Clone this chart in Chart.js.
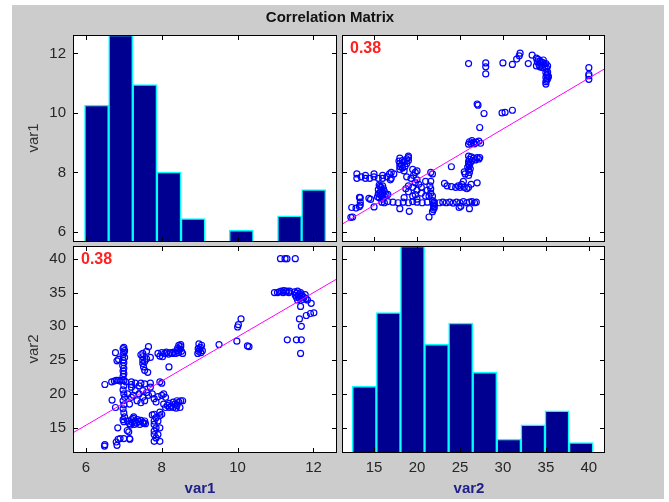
<!DOCTYPE html>
<html><head><meta charset="utf-8">
<script src="https://cdn.jsdelivr.net/npm/chart.js@4.4.1/dist/chart.umd.min.js"></script>
<style>
html,body{margin:0;padding:0;background:#fff;width:669px;height:502px;overflow:hidden;}
#fig{position:absolute;left:12px;top:5px;width:652px;height:494px;background:#cccccc;}
canvas{position:absolute;left:0;top:0;}
.lbl{position:absolute;font-family:'Liberation Sans',Arial,sans-serif;white-space:nowrap;line-height:18px;}
</style></head><body>
<div id="fig"></div>
<canvas id="c11" width="669" height="502"></canvas>
<canvas id="c12" width="669" height="502"></canvas>
<canvas id="c21" width="669" height="502"></canvas>
<canvas id="c22" width="669" height="502"></canvas>
<div class="lbl" style="left:230px;width:200px;top:8px;text-align:center;font-weight:bold;font-size:15px;color:#111;">Correlation Matrix</div>
<div class="lbl" style="left:33px;top:138px;transform:translate(-50%,-50%) rotate(-90deg);font-size:15px;color:#333;">var1</div>
<div class="lbl" style="left:33px;top:349px;transform:translate(-50%,-50%) rotate(-90deg);font-size:15px;color:#333;">var2</div>
<div class="lbl" style="left:200px;top:488px;transform:translate(-50%,-50%);font-size:15px;font-weight:bold;color:#20208a;">var1</div>
<div class="lbl" style="left:469px;top:488px;transform:translate(-50%,-50%);font-size:15px;font-weight:bold;color:#20208a;">var2</div>
<script>
// ---- data ----
const var1 = [
  11.13,11.25,11.30,11.52,
  10.97,11.05,11.10,11.15,11.20,11.22,11.27,11.30,11.35,11.37,
  11.50,11.52,11.55,11.58,11.60,11.62,11.64,11.66,11.68,11.70,11.72,11.75,11.78,11.80,11.84,11.94,11.58,11.55,
  11.66,11.81,11.92,12.01,11.63,11.68,11.31,11.55,11.68,11.66,
  8.95,8.97,9.00,9.02,9.05,8.98,9.07,9.03,8.96,
  9.51,9.98,10.02,10.09,10.00,10.26,10.30,
  7.90,7.95,8.00,8.02,8.08,8.12,8.18,8.22,8.28,8.32,8.36,8.40,8.44,8.48,8.50,8.45,8.52,8.55,8.42,8.50,8.19,
  7.45,7.50,7.50,7.50,7.50,7.52,7.55,7.60,7.65,7.60,7.70,7.63,7.55,
  6.98,7.00,6.98,7.00,6.97,7.00,6.98,7.02,6.98,7.00,7.02,6.98,7.00,6.78,6.86,6.82,
  6.50,6.68,6.75,6.80,6.85,6.90,6.95,7.00,7.05,7.20,7.30,7.45,7.55,7.70,7.95,8.00,7.20,7.40,
  7.00,6.98,7.00,7.02,6.98,7.00,6.98,7.00,7.02,6.98,7.00,
  7.10,7.15,7.20,7.22,7.25,7.28,7.30,7.33,7.36,7.40,7.42,7.45,7.50,7.55,7.57,7.18,7.26,
  7.10,7.20,7.25,7.30,7.35,7.40,7.45,7.50,7.55,7.60,7.70,7.75,7.80,7.85,7.90,8.00,8.05,8.10,7.20,7.15,7.50,7.65,
  7.80,7.85,7.80,7.80,7.85,7.80,7.80,7.85,7.80,7.95,7.90,7.95,7.90,7.95,8.00,7.75,7.95,
  8.10,8.20,8.25,8.30,8.35,8.40,8.45,8.50,8.55,8.40,8.30,8.20,8.15,8.05,8.48,8.38,
  6.49,6.50,6.82,6.80,6.85,6.90,7.00,7.15,7.16,6.84,7.09,7.13,6.69,6.78,7.53
];
const var2 = [
  40,40,40,40,
  35.0,35.0,35.1,35.2,35.0,35.3,35.1,35.2,35.0,35.2,
  35.1,34.6,34.9,35.2,34.5,34.2,34.8,35.0,34.4,34.6,34.0,34.3,34.7,34.1,33.9,33.4,33.9,34.3,
  32.95,31.6,31.9,32.0,31.1,30.0,28.0,28.0,28.0,26.0,
  26.0,26.3,26.6,26.9,27.2,27.4,26.4,26.1,26.7,
  27.3,27.8,30.25,31.1,29.9,27.1,27.0,
  26.0,25.6,26.1,25.5,26.0,26.2,25.9,26.1,26.0,26.2,26.0,26.4,26.1,26.6,27.0,27.2,26.3,26.0,26.8,27.3,24.0,
  25.8,26.0,25.5,25.0,24.5,24.0,23.5,26.3,27.0,25.2,25.4,23.2,24.8,
  22.6,23.0,23.4,23.8,24.2,24.6,25.0,25.4,25.8,26.1,26.4,26.7,26.9,26.1,25.1,24.9,
  21.4,21.8,21.9,22.0,22.0,21.9,22.0,22.0,21.8,21.8,21.6,21.6,21.5,21.6,21.8,21.6,21.4,21.2,
  21.2,20.6,20.0,19.5,19.0,18.4,17.8,17.2,16.6,16.2,15.9,
  16.0,15.6,16.2,15.8,16.4,15.5,16.0,15.7,16.2,15.9,15.5,16.1,15.8,16.0,15.6,15.4,16.6,
  20.0,21.0,19.8,20.5,19.0,20.0,18.7,19.5,19.0,20.2,21.0,20.0,19.3,18.8,19.6,19.8,20.0,19.5,19.5,18.5,20.5,19.8,
  17.0,16.5,16.0,15.5,15.0,14.5,14.0,13.5,13.0,13.0,14.0,15.0,16.0,16.8,17.0,16.9,17.3,
  18.0,18.0,18.2,18.0,18.5,18.3,18.8,19.0,19.0,19.0,18.8,18.6,18.3,18.5,18.0,17.9,
  12.3,12.5,12.4,12.9,13.3,13.4,13.4,13.4,13.3,15.0,14.6,14.4,19.1,18.0,15.7
];
const var1Ticks = [6, 8, 10, 12];
const var2Ticks = [15, 20, 25, 30, 35, 40];
const var1Lim = [5.66, 12.62];
const var2Lim = [11.27, 41.88];
const hist1Start = 5.964, hist1Width = 0.636;
const hist1Counts = [47, 71, 54, 24, 8, 0, 4, 0, 9, 18];
const hist2Start = 12.47, hist2Width = 2.803;
const hist2Counts = [19, 40, 59, 31, 37, 23, 4, 8, 12, 3];
const corrText = '0.38';
const fitVar2OnVar1 = [-4.25, 3.27];  // var2 = a + b*var1
const fitVar1OnVar2 = [4.33, 0.171];  // var1 = a + b*var2

// ---- layout ----
const W = 669, H = 502, Y_W = 45, X_H = 30;
const FONT = {family: "'Liberation Sans', Arial, sans-serif", size: 15};
const TICKC = '#262626';
const rects = {
  c11: {L: 73, T: 35, R: 337, B: 242},
  c12: {L: 342, T: 35, R: 605, B: 242},
  c21: {L: 73, T: 246, R: 337, B: 453},
  c22: {L: 342, T: 246, R: 605, B: 453}
};

const framePlugin = {
  id: 'frame',
  beforeDatasetsDraw(chart) {
    const {ctx, chartArea: a} = chart;
    ctx.save(); ctx.fillStyle = '#fff';
    ctx.fillRect(a.left, a.top, a.right - a.left, a.bottom - a.top);
    ctx.restore();
  },
  afterDraw(chart, args, opts) {
    const {ctx, chartArea: a, scales: {x, y}} = chart;
    ctx.save();
    ctx.strokeStyle = '#000'; ctx.lineWidth = 1;
    ctx.beginPath();
    x.ticks.forEach(t => {
      const p = Math.round(x.getPixelForValue(t.value)) + 0.5;
      ctx.moveTo(p, a.bottom); ctx.lineTo(p, a.bottom - 5);
      ctx.moveTo(p, a.top); ctx.lineTo(p, a.top + 5);
    });
    y.ticks.forEach(t => {
      const p = Math.round(y.getPixelForValue(t.value)) + 0.5;
      ctx.moveTo(a.left, p); ctx.lineTo(a.left + 5, p);
      ctx.moveTo(a.right, p); ctx.lineTo(a.right - 5, p);
    });
    ctx.stroke();
    ctx.strokeRect(Math.round(a.left) + 0.5, Math.round(a.top) + 0.5,
                   Math.round(a.right - a.left) - 1, Math.round(a.bottom - a.top) - 1);
    if (opts && opts.label) {
      ctx.fillStyle = '#ff2020';
      ctx.font = "bold 16px 'Liberation Sans', Arial, sans-serif";
      ctx.textBaseline = 'top';
      ctx.fillText(opts.label, a.left + 8, a.top + 6);
    }
    ctx.restore();
  }
};

function axis(lim, ticks, show, isX) {
  return {
    type: 'linear', min: lim[0], max: lim[1], offset: false, beginAtZero: false,
    grid: {display: false, drawTicks: false}, border: {display: false},
    ticks: {display: show, font: FONT, color: TICKC, padding: isX ? 6 : 7, maxRotation: 0, autoSkip: false},
    afterBuildTicks: s => { s.ticks = ticks.map(v => ({value: v})); },
    afterFit: s => { if (isX) s.height = X_H; else s.width = Y_W; }
  };
}

function makeChart(id, type, datasets, xLim, xTicks, yLim, yTicks, showX, showY, label) {
  const r = rects[id];
  return new Chart(document.getElementById(id), {
    type: type,
    data: {datasets: datasets},
    options: {
      responsive: false, animation: false, devicePixelRatio: 1,
      layout: {padding: {left: r.L - Y_W, right: W - r.R, top: r.T, bottom: H - r.B - X_H}},
      plugins: {legend: {display: false}, tooltip: {enabled: false}, frame: {label: label}},
      scales: {x: axis(xLim, xTicks, showX, true), y: axis(yLim, yTicks, showY, false)}
    },
    plugins: [framePlugin]
  });
}

function histData(start, width, counts, yLim) {
  const maxC = Math.max(...counts);
  return counts.map((c, i) => ({
    x: start + (i + 0.5) * width,
    y: yLim[0] + c / maxC * (yLim[1] - yLim[0])
  }));
}
function histSet(data) {
  return {type: 'bar', data: data, backgroundColor: '#000090', borderColor: '#00ffff',
          borderWidth: 1.5, borderSkipped: false, barPercentage: 1, categoryPercentage: 1,
          minBarLength: 5, grouped: false};
}
function pointsSet(xs, ys) {
  return {type: 'scatter', data: xs.map((v, i) => ({x: v, y: ys[i]})),
          pointStyle: 'circle', pointRadius: 3, pointBorderWidth: 1.2,
          pointBorderColor: '#0000ff', pointBackgroundColor: 'rgba(0,0,0,0)', showLine: false};
}
function fitSet(coef, xLim) {
  return {type: 'line', data: xLim.map(v => ({x: v, y: coef[0] + coef[1] * v})),
          borderColor: '#ff00ff', borderWidth: 1, pointRadius: 0, fill: false, tension: 0};
}

makeChart('c11', 'bar', [histSet(histData(hist1Start, hist1Width, hist1Counts, var1Lim))],
          var1Lim, var1Ticks, var1Lim, var1Ticks, false, true, null);
makeChart('c12', 'scatter', [fitSet(fitVar1OnVar2, var2Lim), pointsSet(var2, var1)],
          var2Lim, var2Ticks, var1Lim, var1Ticks, false, false, corrText);
makeChart('c21', 'scatter', [fitSet(fitVar2OnVar1, var1Lim), pointsSet(var1, var2)],
          var1Lim, var1Ticks, var2Lim, var2Ticks, true, true, corrText);
makeChart('c22', 'bar', [histSet(histData(hist2Start, hist2Width, hist2Counts, var2Lim))],
          var2Lim, var2Ticks, var2Lim, var2Ticks, true, false, null);
</script>
</body></html>
